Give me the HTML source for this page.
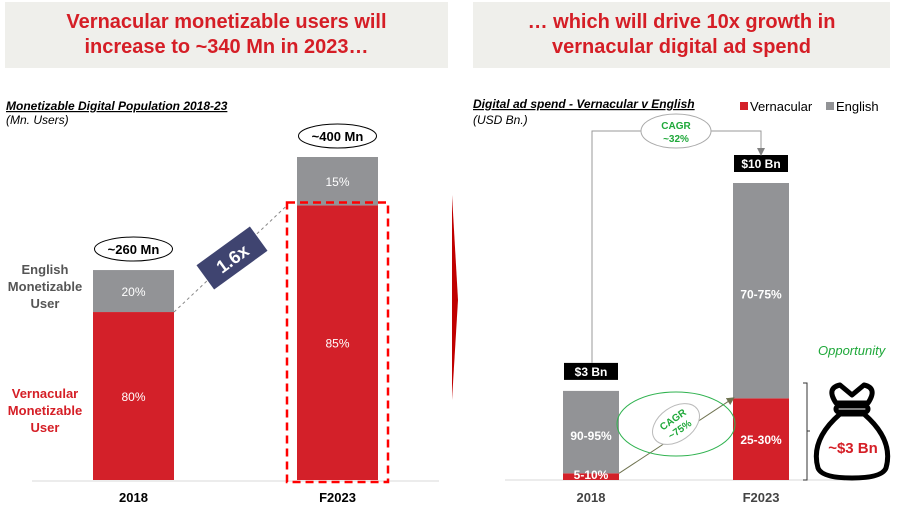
<!DOCTYPE html>
<html><head><meta charset="utf-8">
<style>
body{margin:0;width:900px;height:507px;background:#fff;font-family:"Liberation Sans",Arial,sans-serif;overflow:hidden;position:relative}
.hdr{position:absolute;top:2px;height:66px;background:#efefeb;color:#d51e26;font-size:20px;font-weight:bold;text-align:center;line-height:25px;display:flex;align-items:center;justify-content:center}
</style></head><body>
<div class="hdr" style="left:5px;width:443px">Vernacular monetizable users will<br>increase to ~340 Mn in 2023…</div>
<div class="hdr" style="left:473px;width:417px">… which will drive 10x growth in<br>vernacular digital ad spend</div>
<svg id="chart" width="900" height="507" style="position:absolute;left:0;top:0">
<defs>
<marker id="ag" markerWidth="8" markerHeight="8" refX="4" refY="4" orient="auto"><path d="M0,0L8,4L0,8z" fill="#808080"/></marker>
<marker id="ao" markerWidth="8" markerHeight="8" refX="6" refY="4" orient="auto"><path d="M0,0L8,4L0,8z" fill="#6f7350"/></marker>
</defs>
<g font-family="Liberation Sans, Arial, sans-serif">
<text x="6" y="110" font-size="12" font-weight="bold" font-style="italic" text-decoration="underline">Monetizable Digital Population 2018-23</text>
<text x="6" y="124" font-size="12" font-style="italic">(Mn. Users)</text>
<text x="473" y="108" font-size="12" font-weight="bold" font-style="italic" text-decoration="underline">Digital ad spend - Vernacular v English</text>
<text x="473" y="124" font-size="12" font-style="italic">(USD Bn.)</text>
<rect x="740" y="102" width="8" height="8" fill="#d32029"/>
<text x="750" y="111" font-size="13">Vernacular</text>
<rect x="826" y="102" width="8" height="8" fill="#929396"/>
<text x="836" y="111" font-size="13">English</text>
<line x1="32" y1="481" x2="439" y2="481" stroke="#d9d9d9"/>
<line x1="505" y1="480" x2="845" y2="480" stroke="#d9d9d9"/>
<text x="45" y="274" font-size="13" font-weight="bold" fill="#555" text-anchor="middle"><tspan x="45">English</tspan><tspan x="45" dy="17">Monetizable</tspan><tspan x="45" dy="17">User</tspan></text>
<text x="45" y="398" font-size="13" font-weight="bold" fill="#d51e26" text-anchor="middle"><tspan x="45">Vernacular</tspan><tspan x="45" dy="17">Monetizable</tspan><tspan x="45" dy="17">User</tspan></text>
<path d="M452,195 L458,300 L452,400 Z" fill="#c00000"/>
<text x="818" y="355" font-size="13" font-style="italic" fill="#1fa83a">Opportunity</text>
<path d="M803,383 h4 v97 h-4 M807,431 h3" stroke="#333" fill="none"/>
<g fill="none" stroke="#000" stroke-width="5" stroke-linejoin="round">
<path d="M836,403 Q826,388 840,385 L852,395 L864,385 Q878,388 868,403 Z"/>
<rect x="836" y="406" width="32" height="6" rx="3"/>
<path d="M840,414 Q810,440 818,468 Q822,478 852,478 Q882,478 886,468 Q894,440 864,414 Z"/>
</g>
<text x="853" y="453" font-size="15" font-weight="bold" fill="#d51e26" text-anchor="middle">~$3 Bn</text>
<g id="left"></g><g id="right"></g>
</g></svg>
<script>
const ns="http://www.w3.org/2000/svg";
function mk(p,tag,attrs,txt){const e=document.createElementNS(ns,tag);for(const k in attrs)e.setAttribute(k,attrs[k]);if(txt!==undefined)e.textContent=txt;p.appendChild(e);return e;}
// Left chart data
const leftCats=["2018","F2023"];
const leftTotals=[260,400];
const leftVernShare=[80,85];
const leftEngShare=[20,15];
const leftTotalLabels=["~260 Mn","~400 Mn"];
// Right chart data
const rightCats=["2018","F2023"];
const rightTotals=[3,10];
const rightVernShare=[7.5,27.5];
const rightVernLabels=["5-10%","25-30%"];
const rightEngLabels=["90-95%","70-75%"];
const rightTotalLabels=["$3 Bn","$10 Bn"];

const L=document.getElementById('left'),R=document.getElementById('right');
const base=480;
const lx=i=>[93,297][i], lw=81, ly=v=>base-v*0.8075;
const leftTops=[];
leftCats.forEach((c,i)=>{
  const tot=leftTotals[i],vh=tot*leftVernShare[i]/100;
  const yTop=ly(tot),yMid=ly(vh);leftTops.push([yTop,yMid]);
  let r=mk(L,'rect',{x:lx(i),y:yMid,width:lw,height:base-yMid,fill:'#d32029'});
  
  
  r=mk(L,'rect',{x:lx(i),y:yTop,width:lw,height:yMid-yTop,fill:'#929396'});
  
  
  let t=mk(L,'text',{x:lx(i)+lw/2,y:(yMid+base)/2+5,'font-size':12,fill:'#fff','text-anchor':'middle'},leftVernShare[i]+'%');
  
  
  t=mk(L,'text',{x:lx(i)+lw/2,y:(yTop+yMid)/2+5,'font-size':12,fill:'#fff','text-anchor':'middle'},leftEngShare[i]+'%');
  
  
  const e=mk(L,'ellipse',{cx:lx(i)+lw/2,cy:yTop-21,rx:39,ry:12,fill:'#fff',stroke:'#000'});
  
  
  t=mk(L,'text',{x:lx(i)+lw/2,y:yTop-16,'font-size':13,'font-weight':'bold','text-anchor':'middle'},leftTotalLabels[i]);
  
  
  t=mk(L,'text',{x:lx(i)+lw/2,y:502,'font-size':13,'font-weight':'bold','text-anchor':'middle'},c);
  
  
});
let d=mk(L,'rect',{x:lx(1)-10,y:leftTops[1][1]-3,width:lw+20,height:base-leftTops[1][1]+5,fill:'none',stroke:'#ff0000','stroke-width':2.5,'stroke-dasharray':'8,5'});


d=mk(L,'line',{x1:lx(0)+lw,y1:leftTops[0][1],x2:lx(1)-10,y2:leftTops[1][1],stroke:'#888','stroke-dasharray':'3,3'});


const g=mk(L,'g',{transform:'translate(232,258) rotate(-36)'});


mk(g,'rect',{x:-33,y:-15,width:66,height:30,fill:'#3f4470'});
mk(g,'text',{x:0,y:7,'font-size':18,'font-weight':'bold',fill:'#fff','text-anchor':'middle'},'1.6x');

const rx=i=>[563,733][i], rw=56, ry=v=>base-v*29.7;
const rTops=[];
rightCats.forEach((c,i)=>{
  const tot=rightTotals[i],vh=tot*rightVernShare[i]/100;
  const yTop=ry(tot),yMid=ry(vh);rTops.push([yTop,yMid]);
  let r=mk(R,'rect',{x:rx(i),y:yMid,width:rw,height:base-yMid,fill:'#d32029'});
  
  
  r=mk(R,'rect',{x:rx(i),y:yTop,width:rw,height:yMid-yTop,fill:'#929396'});
  
  
  let t=mk(R,'text',{x:rx(i)+rw/2,y:i?(yMid+base)/2+5:base-1,'font-size':12,'font-weight':'bold',fill:'#fff','text-anchor':'middle'},rightVernLabels[i]);
  
  
  t=mk(R,'text',{x:rx(i)+rw/2,y:(yTop+yMid)/2+8,'font-size':12,'font-weight':'bold',fill:'#fff','text-anchor':'middle'},rightEngLabels[i]);
  
  
  const b=mk(R,'rect',{x:rx(i)+1,y:yTop-28,width:rw-2,height:17,fill:'#000'});
  
  
  t=mk(R,'text',{x:rx(i)+rw/2,y:yTop-15,'font-size':12,'font-weight':'bold',fill:'#fff','text-anchor':'middle'},rightTotalLabels[i]);
  
  
  t=mk(R,'text',{x:rx(i)+rw/2,y:502,'font-size':13,'font-weight':'bold',fill:'#444','text-anchor':'middle'},c);
  
  
});
let p=mk(R,'path',{d:`M${rx(0)+29},${rTops[0][0]-28} V131 H${rx(1)+28} V${rTops[1][0]-31}`,fill:'none',stroke:'#999','marker-end':'url(#ag)'});


let e=mk(R,'ellipse',{cx:676,cy:131,rx:35,ry:17,fill:'#fff',stroke:'#aaa'});


let t=mk(R,'text',{x:676,y:129,'font-size':10,'font-weight':'bold',fill:'#1fa83a','text-anchor':'middle'},'CAGR');


t=mk(R,'text',{x:676,y:142,'font-size':10,'font-weight':'bold',fill:'#1fa83a','text-anchor':'middle'},'~32%');


p=mk(R,'line',{x1:rx(0)+rw,y1:rTops[0][1],x2:rx(1),y2:rTops[1][1],stroke:'#6f7350','marker-end':'url(#ao)'});


e=mk(R,'ellipse',{cx:676,cy:424,rx:59,ry:32,fill:'none',stroke:'#2fb24f'});


const vg=mk(R,'g',{transform:'translate(676,424) rotate(-35)'});


mk(vg,'ellipse',{cx:0,cy:0,rx:26,ry:17,fill:'#fff',stroke:'#bbb'});
mk(vg,'text',{x:0,y:-2,'font-size':10,'font-weight':'bold',fill:'#1fa83a','text-anchor':'middle'},'CAGR');
mk(vg,'text',{x:0,y:10,'font-size':10,'font-weight':'bold',fill:'#1fa83a','text-anchor':'middle'},'~75%');
</script>
</body></html>
